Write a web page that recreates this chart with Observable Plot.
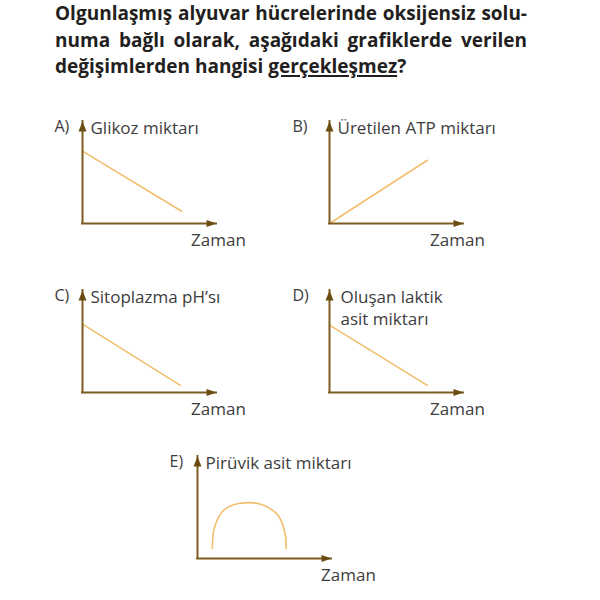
<!DOCTYPE html>
<html><head><meta charset="utf-8">
<script src="https://cdn.jsdelivr.net/npm/d3@7"></script>
<script src="https://cdn.jsdelivr.net/npm/@observablehq/plot@0.6"></script>
<style>
body{margin:0;background:#fff;}
#wrap{position:relative;width:600px;height:600px;overflow:hidden;font-family:"Open Sans",sans-serif;background:#fff;}
#title{position:absolute;left:55px;top:0px;width:472px;font-weight:700;font-size:19px;line-height:26.5px;color:#231f20;letter-spacing:0px;}
#title div{text-align:justify;text-align-last:justify;white-space:nowrap;}
#title div.last{text-align-last:left;}
#title u{text-decoration-thickness:1.5px;text-underline-offset:2px;}
.panel{position:absolute;}
</style></head>
<body><div id="wrap"><div id="title"></div></div>
<script>
// ---- text ----
const titleLines = ["Olgunlaşmış alyuvar hücrelerinde oksijensiz solu-", "numa bağlı olarak, aşağıdaki grafiklerde verilen"];
const titleLastStart = "değişimlerden hangisi ";
const titleUnderlined = "gerçekleşmez";
const titleEnd = "?";
const panelLetters = ["A)", "B)", "C)", "D)", "E)"];
const yLabels = ["Glikoz miktarı", "Üretilen ATP miktarı", "Sitoplazma pH’sı", "Oluşan laktik\nasit miktarı", "Pirüvik asit miktarı"];
const xLabel = "Zaman";
// ---- series (x: time 0-10, y: amount 0-10) ----
const seriesA = [[0, 7.1], [7.4, 1.2]];
const seriesB = [[0, 0], [7.3, 6.2]];
const seriesC = [[0, 6.7], [7.3, 0.7]];
const seriesD = [[0, 6.6], [7.3, 0.7]];
const seriesE = [[1.10, 0.98], [1.22, 2.79], [1.47, 3.77], [1.84, 4.59], [2.45, 5.15], [3.18, 5.41], [3.92, 5.48], [4.65, 5.34], [5.39, 4.92], [6.0, 4.26], [6.37, 3.28], [6.57, 2.13], [6.62, 0.98]];
const allSeries = [seriesA, seriesB, seriesC, seriesD, seriesE];

// ---- title ----
const title = document.getElementById("title");
for (const t of titleLines) { const d = document.createElement("div"); d.textContent = t; title.appendChild(d); }
const last = document.createElement("div"); last.className = "last";
last.appendChild(document.createTextNode(titleLastStart));
const u = document.createElement("u"); u.textContent = titleUnderlined; last.appendChild(u);
last.appendChild(document.createTextNode(titleEnd));
title.appendChild(last);

// ---- layout ----
const layout = [
  {left: 40, top: 105, letterDx: -28, xLabelDx: 2},
  {left: 287, top: 105, letterDx: -37, xLabelDx: -6},
  {left: 40, top: 274, letterDx: -28, xLabelDx: 2},
  {left: 287, top: 274, letterDx: -37, xLabelDx: -6},
  {left: 155, top: 440, letterDx: -28, xLabelDx: 17}
];
const labelDx = [8, 8, 8, 11, 8];
const axisColor = "#7d5d1f";
const headColor = "#6a4c12";
const lineColor = "#f2bd6e";
const textColor = "#3d3d3d";
const upHead = {draw(ctx) { ctx.moveTo(0, 0); ctx.lineTo(-4, 10); ctx.lineTo(4, 10); ctx.closePath(); }};
const rightHead = {draw(ctx) { ctx.moveTo(0, 0); ctx.lineTo(-10, -3.6); ctx.lineTo(-10, 3.6); ctx.closePath(); }};
const wrap = document.getElementById("wrap");

allSeries.forEach((series, i) => {
  const lines = yLabels[i].split("\n").length;
  const chart = Plot.plot({
    width: 230, height: 150,
    marginLeft: 42, marginRight: 54, marginTop: 16, marginBottom: 32,
    x: {domain: [0, 10], axis: null},
    y: {domain: [0, 10], axis: null},
    style: {fontFamily: "'Open Sans', sans-serif", background: "transparent", overflow: "visible"},
    marks: [
      Plot.line(series, {x: d => d[0], y: d => d[1], stroke: lineColor, strokeWidth: 1.6, curve: i === 4 ? "catmull-rom" : "linear"}),
      Plot.ruleY([0], {x1: 0, x2: 10, stroke: axisColor, strokeWidth: 2, strokeLinecap: "square"}),
      Plot.ruleX([0], {y1: 0, y2: 10, stroke: axisColor, strokeWidth: 2, strokeLinecap: "square"}),
      Plot.dot([[0, 10]], {x: d => d[0], y: d => d[1], symbol: upHead, fill: headColor, stroke: "none", r: 4}),
      Plot.dot([[10, 0]], {x: d => d[0], y: d => d[1], symbol: rightHead, fill: headColor, stroke: "none", r: 4}),
      Plot.text([panelLetters[i]], {x: 0, y: 10, text: d => d, textAnchor: "start", dx: layout[i].letterDx, dy: 5, fontSize: 16, fill: textColor}),
      Plot.text([yLabels[i]], {x: 0, y: 10, text: d => d, textAnchor: "start", dx: labelDx[i], dy: 5 + (lines - 1) * 11, lineHeight: 1.3, fontSize: 17, fill: textColor}),
      Plot.text([xLabel], {x: 10, y: 0, text: d => d, textAnchor: "middle", dx: layout[i].xLabelDx, dy: 17, fontSize: 17, fill: textColor})
    ]
  });
  chart.classList.add("panel");
  chart.style.left = layout[i].left + "px";
  chart.style.top = layout[i].top + "px";
  wrap.appendChild(chart);
});
</script>
</body></html>
